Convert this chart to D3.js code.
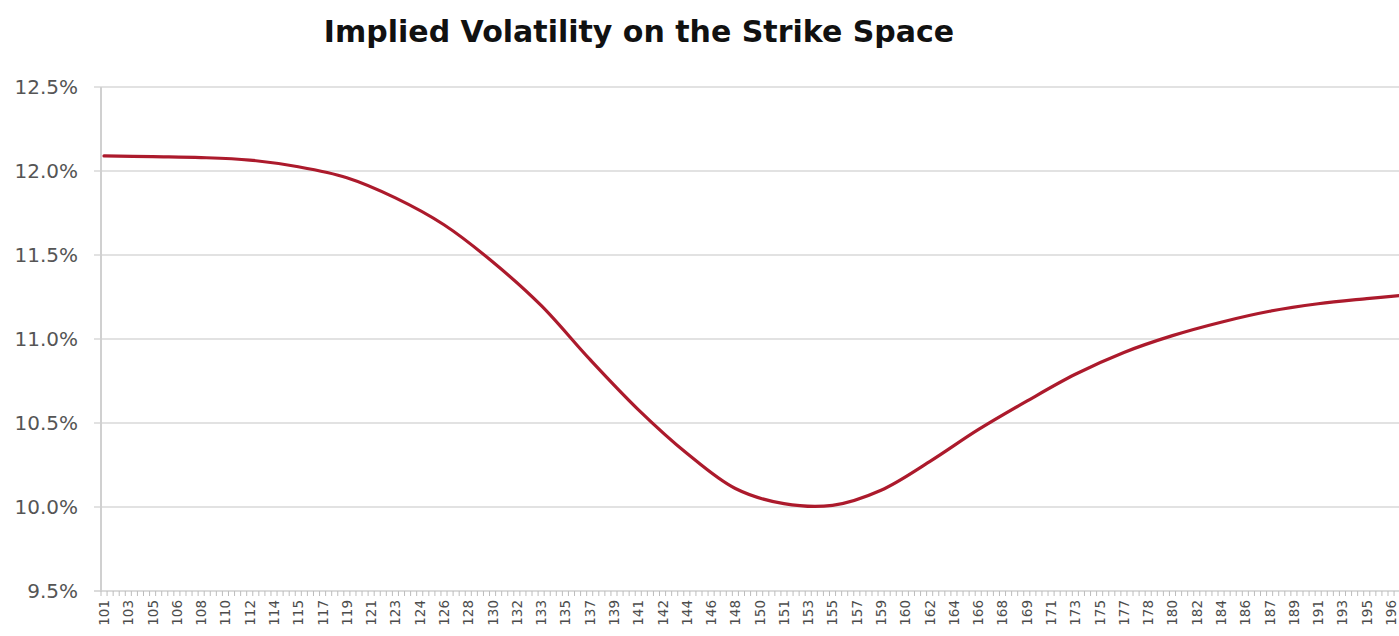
<!DOCTYPE html>
<html><head><meta charset="utf-8">
<script src="https://cdn.jsdelivr.net/npm/d3@7"></script>
<style>
html,body{margin:0;padding:0;background:#fff;overflow:hidden;}
svg{display:block;}
</style></head>
<body>
<svg id="chart" width="1399" height="636"></svg>
<script>
// ---- data ----
const title = "Implied Volatility on the Strike Space";
const strikes = [101,104.6,108.2,111.8,115.4,119.0,122.6,126.2,129.8,133.4,137.0,140.6,144.2,147.8,151.4,155.0,158.6,162.2,165.8,169.4,173.0,176.6,180.2,183.8,187.4,191.0,194.6,197.3];
const impliedVol = [12.09,12.085,12.08,12.065,12.025,11.96,11.84,11.68,11.46,11.20,10.88,10.58,10.32,10.11,10.02,10.01,10.10,10.27,10.46,10.63,10.79,10.92,11.02,11.10,11.165,11.21,11.24,11.26];
const yTicks = [9.5,10.0,10.5,11.0,11.5,12.0,12.5];
// category labels: strike grid step 0.9, every other one labelled
const labelStrikes = d3.range(0,54).map(k => 101 + 1.8*k);
const tickStrikes = d3.range(0,216).map(k => 101 + 0.45*k);

// ---- layout ----
const svg = d3.select("#chart");
const x = d3.scaleLinear().domain([101,196.4]).range([104,1391]);
const y = d3.scaleLinear().domain([9.5,12.5]).range([591,87]);
const plotLeft = 101, plotRight = 1399;

svg.append("text")
  .attr("x",639).attr("y",42)
  .attr("text-anchor","middle")
  .attr("font-family","'DejaVu Sans', sans-serif")
  .attr("font-weight",700)
  .attr("font-size",30)
  .attr("fill","#111")
  .text(title);

// gridlines
svg.append("g").selectAll("line").data(yTicks.filter(v=>v>9.5)).join("line")
  .attr("x1",94).attr("x2",plotRight)
  .attr("y1",d=>y(d)).attr("y2",d=>y(d))
  .attr("stroke","#d9d9d9").attr("stroke-width",1.5);

// y labels
svg.append("g").selectAll("text").data(yTicks).join("text")
  .attr("x",78).attr("y",d=>y(d)+7)
  .attr("text-anchor","end")
  .attr("font-family","'DejaVu Sans', sans-serif")
  .attr("font-size",20)
  .attr("fill","#555")
  .text(d=>d3.format(".1f")(d)+"%");

// y axis line
svg.append("line").attr("x1",plotLeft).attr("x2",plotLeft)
  .attr("y1",y(12.5)).attr("y2",y(9.5))
  .attr("stroke","#d0d0d0").attr("stroke-width",2);

// x axis line
svg.append("line").attr("x1",94).attr("x2",plotRight)
  .attr("y1",y(9.5)).attr("y2",y(9.5))
  .attr("stroke","#cfcfcf").attr("stroke-width",1.5);

// x tick marks
svg.append("g").selectAll("line").data(tickStrikes).join("line")
  .attr("x1",d=>x(d)-3).attr("x2",d=>x(d)-3)
  .attr("y1",y(9.5)).attr("y2",y(9.5)+5)
  .attr("stroke","#bdbdbd").attr("stroke-width",1);

// x labels
svg.append("g").selectAll("text").data(labelStrikes).join("text")
  .attr("transform",d=>`translate(${x(d)+5},600) rotate(-90)`)
  .attr("text-anchor","end")
  .attr("font-family","'DejaVu Sans', sans-serif")
  .attr("font-size",13.5)
  .attr("fill","#4d4d4d")
  .text(d=>Math.round(d));

// curve
const line = d3.line().x((d,i)=>x(strikes[i])).y(d=>y(d)).curve(d3.curveCatmullRom.alpha(0.5));
svg.append("path").datum(impliedVol)
  .attr("d",line)
  .attr("fill","none")
  .attr("stroke","#ac1a2c")
  .attr("stroke-width",3.2)
  .attr("stroke-linecap","round");
</script>
</body></html>
